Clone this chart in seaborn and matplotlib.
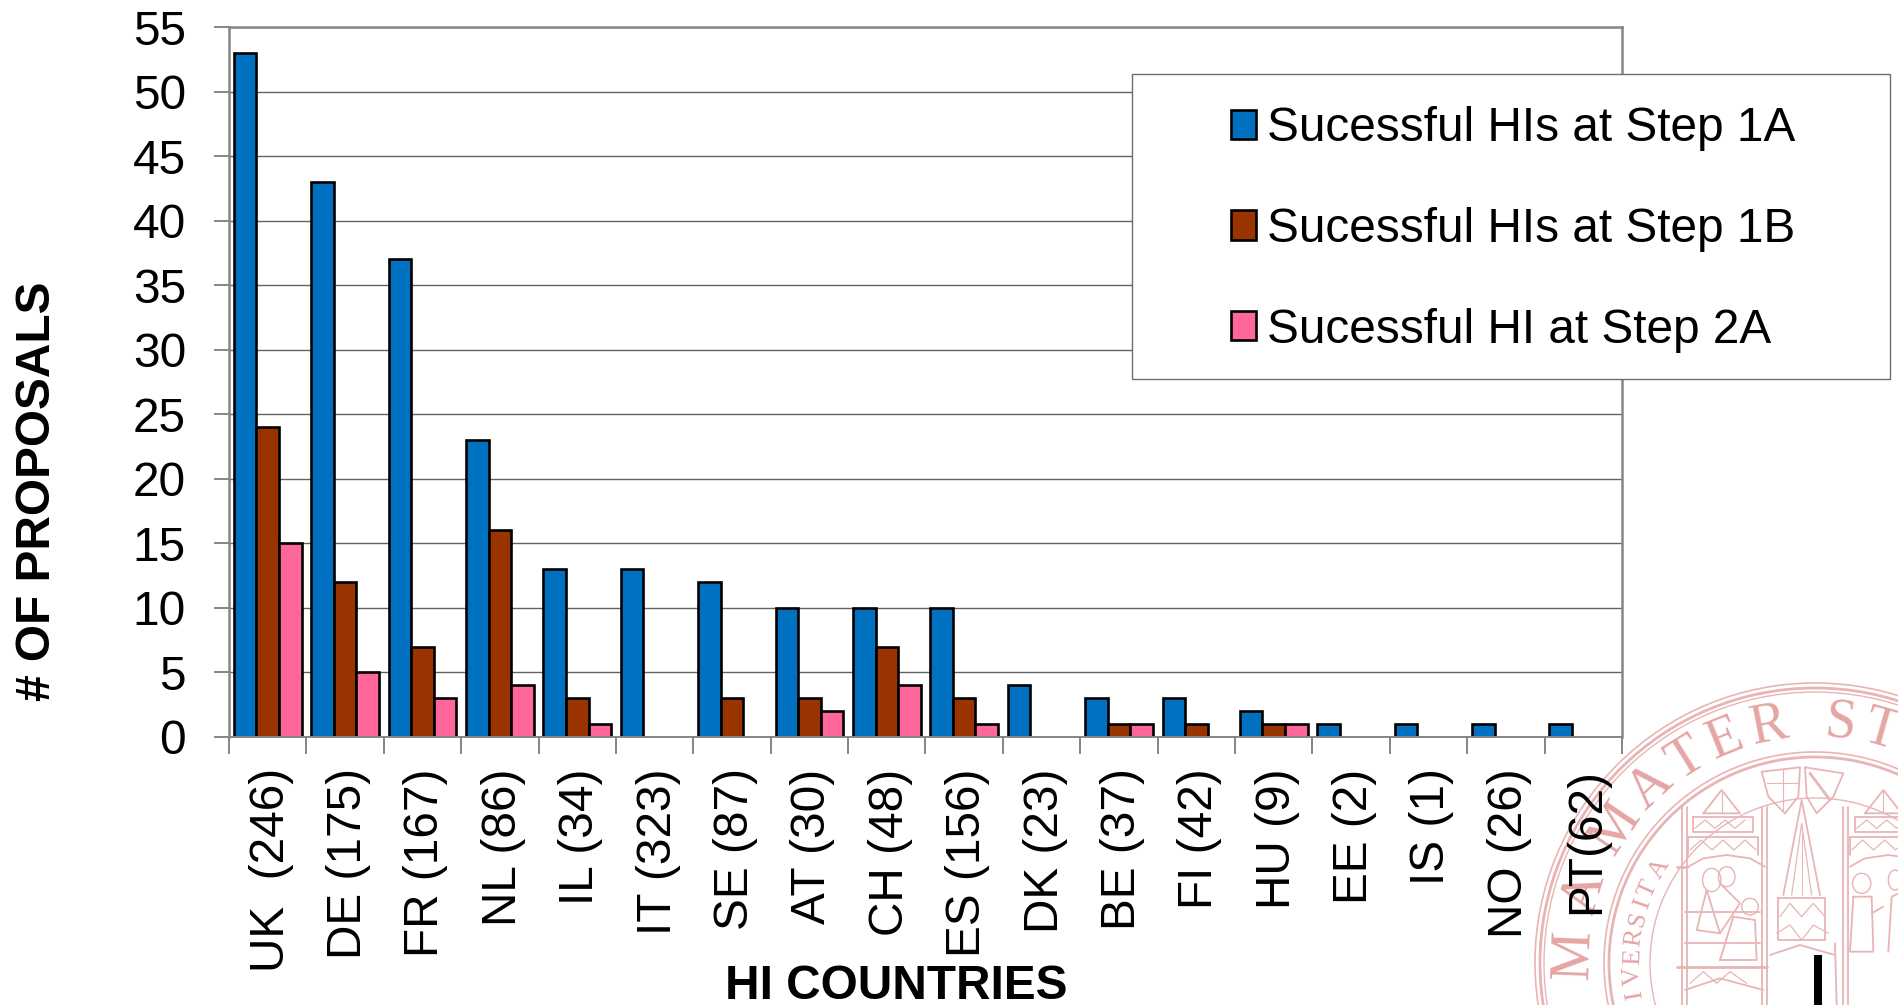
import matplotlib
matplotlib.use("Agg")
import matplotlib.pyplot as plt
from matplotlib.patches import Rectangle, Circle, Ellipse
from matplotlib.transforms import ScaledTranslation
import numpy as np
import pandas as pd
import seaborn as sns

countries = ["UK  (246)", "DE (175)", "FR (167)", "NL (86)", "IL (34)", "IT (323)",
             "SE (87)", "AT (30)", "CH (48)", "ES (156)", "DK (23)", "BE (37)",
             "FI (42)", "HU (9)", "EE (2)", "IS (1)", "NO (26)", "PT(62)"]
step_1a = [53, 43, 37, 23, 13, 13, 12, 10, 10, 10, 4, 3, 3, 2, 1, 1, 1, 1]
step_1b = [24, 12, 7, 16, 3, 0, 3, 3, 7, 3, 0, 1, 1, 1, 0, 0, 0, 0]
step_2a = [15, 5, 3, 4, 1, 0, 0, 2, 4, 1, 0, 1, 0, 1, 0, 0, 0, 0]
series_names = ["Sucessful HIs at Step 1A", "Sucessful HIs at Step 1B", "Sucessful HI at Step 2A"]
y_ticks = list(range(0, 60, 5))

colors = ["#0070C0", "#993300", "#FF6699"]
GREY = "#868686"
SEAL = "#E9B4B4"
W, H = 1899, 1005
FS = 34.4

sns.set_theme(style="white")
plt.rcParams["font.family"] = ["Liberation Sans", "DejaVu Sans"]

df = pd.DataFrame({"country": countries, series_names[0]: step_1a,
                   series_names[1]: step_1b, series_names[2]: step_2a})
df = df.melt(id_vars="country", var_name="series", value_name="proposals")

fig = plt.figure(figsize=(W / 100, H / 100), dpi=100, facecolor="white")


# faint university seal behind everything, in pixel coords of the zoomed crop
seal = fig.add_axes([0, 0, 1, 1], zorder=0)
seal.set_xlim(0, W)
seal.set_ylim(H, 0)
seal.axis("off")
cx, cy = 1815, 963


def zp(pts):
    pts = np.array(pts, dtype=float)
    return 1500 + pts[:, 0] / 3, 650 + pts[:, 1] / 3


def sline(pts, lw=1.3):
    x, y = zp(pts)
    seal.plot(x, y, color=SEAL, lw=lw, solid_joinstyle="round")


for r, lw in [(280, 1.2), (275, 2.0), (271, 1.0), (211, 1.2), (206, 2.0), (165, 1.0)]:
    seal.add_patch(Circle((cx, cy), r, fill=False, ec=SEAL, lw=lw))

for ch, ang in [("M", 178), ("A", 163), ("M", 146), ("A", 133), ("T", 122), ("E", 112),
                ("R", 101), ("S", 84), ("T", 74)]:
    a = np.radians(ang)
    seal.text(cx + 241 * np.cos(a), cy - 241 * np.sin(a), ch, color="#E5A5A5", fontsize=40,
              family="Liberation Serif", rotation=ang - 90, ha="center", va="center")
for ch, ang in [("I", 190), ("V", 184), ("E", 178), ("R", 172), ("S", 166), ("I", 161),
                ("T", 156), ("A", 149)]:
    a = np.radians(ang)
    seal.text(cx + 182 * np.cos(a), cy - 182 * np.sin(a), ch, color="#E5A5A5", fontsize=19,
              family="Liberation Serif", rotation=ang - 90, ha="center", va="center")

# towers and spire
for dx in [0, 485]:
    for zx in [545, 560, 785, 800]:
        if dx == 485 and zx > 560:
            continue
        sline([(zx + dx, 470), (zx + dx, 1065)])
    sline([(610 + dx, 490), (665 + dx, 420), (720 + dx, 490), (610 + dx, 490)])
    sline([(665 + dx, 420), (665 + dx, 490)], 0.8)
    sline([(580 + dx, 500), (760 + dx, 500), (760 + dx, 545), (580 + dx, 545), (580 + dx, 500)])
    sline([(565 + dx, 560), (775 + dx, 560), (775 + dx, 615)])
    sline([(565 + dx, 560), (565 + dx, 615)])
    zig = [(585 + dx + 30 * i, 535 - 25 * (i % 2)) for i in range(6)]
    sline(zig, 0.9)
    zig = [(570 + dx + 33 * i, 600 - 30 * (i % 2)) for i in range(7)]
    sline(zig, 0.9)
    sline([(565 + dx, 650), (610 + dx, 625), (680 + dx, 615), (750 + dx, 625), (795 + dx, 650)])
sline([(530, 650), (560, 650)], 2)
sline([(555, 785), (780, 785)])
sline([(555, 880), (780, 880)])
sline([(530, 950), (800, 950)], 2)
sline([(555, 1020), (660, 985), (790, 1020)])
sline([(570, 1000), (610, 965), (650, 1000), (690, 965), (740, 1000)], 0.9)

sline([(850, 735), (905, 450), (960, 735)])
sline([(875, 735), (905, 520), (935, 735)], 0.9)
sline([(905, 540), (905, 735)], 0.7)
sline([(835, 745), (975, 745), (975, 870), (835, 870), (835, 745)])
sline([(840, 800), (870, 760), (905, 800), (940, 760), (975, 800)], 0.9)
sline([(830, 850), (870, 825), (905, 870), (940, 825), (985, 850)], 0.9)
sline([(810, 915), (900, 885), (1005, 915)])
sline([(1005, 880), (1010, 1065)])

# shields
sline([(785, 365), (900, 352), (895, 440), (855, 490), (805, 440), (785, 365)])
sline([(915, 352), (1030, 370), (1000, 440), (950, 490), (920, 440), (915, 352)])
sline([(800, 400), (895, 400)], 0.8)
sline([(850, 360), (850, 480)], 0.8)
sline([(930, 370), (990, 450)], 2)

# seated and standing figures, just rough outlines
for ex, ey, ew, eh in [(635, 690, 55, 70), (680, 680, 50, 60), (750, 770, 50, 50),
                       (1085, 700, 55, 60), (1185, 690, 40, 60)]:
    x, y = zp([(ex, ey)])
    seal.add_patch(Ellipse((x[0], y[0]), ew / 3, eh / 3, fill=False, ec=SEAL, lw=1))
sline([(590, 840), (620, 720), (660, 850), (590, 840)])
sline([(660, 700), (720, 760), (660, 850)])
sline([(660, 930), (700, 800), (765, 810), (770, 930), (660, 930)])
sline([(1060, 740), (1050, 905), (1120, 905), (1115, 740), (1060, 740)])
sline([(1165, 905), (1175, 740), (1197, 730)])
sline([(1115, 790), (1150, 770)])

# the black stub at the bottom right
seal.add_patch(Rectangle((1814, 955), 8, 50, fc="black", ec="none", zorder=4))


# main chart
left, right, top, bottom = 229, 1622, 27, 737
ax = fig.add_axes([left / W, 1 - bottom / H, (right - left) / W, (bottom - top) / H], zorder=2)
ax.set_axisbelow(True)
ax.yaxis.grid(True, color="#636363", lw=1.0)
ax.xaxis.grid(False)

sns.barplot(data=df, x="country", y="proposals", hue="series", hue_order=series_names,
            palette=colors, saturation=1, width=0.875, gap=0, edgecolor="black",
            linewidth=1.9, ax=ax)
for container in ax.containers:
    for bar in container:
        if bar.get_height() == 0:
            bar.set_visible(False)

ax.set_xlim(-0.5, len(countries) - 0.5)
ax.set_ylim(0, 55)
ax.set_yticks(y_ticks)
ax.tick_params(axis="y", labelsize=FS, left=True, length=11, width=1.4, color=GREY, pad=20,
               labelcolor="black")
ax.set_xticks(range(len(countries)))
ax.set_xticklabels(countries, rotation=90, fontsize=FS, ha="center", va="top", color="black")
ax.set_xticks(np.arange(len(countries) + 1) - 0.5, minor=True)
ax.tick_params(axis="x", which="minor", bottom=True, length=12, width=1.2, color="#707070",
               direction="out")
ax.tick_params(axis="x", which="major", bottom=False, length=0, pad=22.5)
# labels sit slightly right of the category centre
shift = ScaledTranslation(2.5 / 72, 0, fig.dpi_scale_trans)
for label in ax.get_xticklabels():
    label.set_transform(label.get_transform() + shift)
for side in ax.spines:
    ax.spines[side].set_color(GREY)
    ax.spines[side].set_linewidth(1.8)
ax.spines["bottom"].set_linewidth(1.4)

ax.set_xlabel("HI COUNTRIES", fontsize=FS, fontweight="bold", color="black")
ax.xaxis.set_label_coords(896 / W, 1 - 1009 / H, transform=fig.transFigure)
ax.xaxis.label.set_va("bottom")
ax.set_ylabel("# OF PROPOSALS", fontsize=FS, fontweight="bold", color="black")
ax.yaxis.set_label_coords(38 / W, 1 - 491 / H, transform=fig.transFigure)
ax.yaxis.label.set_va("center")

# legend box sits over the right edge of the plot
box = Rectangle((1132 / W, 1 - 379 / H), 758 / W, 305 / H, transform=fig.transFigure,
                fc="white", ec="#6e6e6e", lw=1.0, zorder=5, clip_on=False)
ax.add_patch(box)
handles, labels = ax.get_legend_handles_labels()
leg = ax.legend(handles, labels, loc="upper left", bbox_to_anchor=(1231 / W, 1 - 106 / H),
                bbox_transform=fig.transFigure, frameon=False, fontsize=FS, borderpad=0,
                borderaxespad=0, labelspacing=1.17, handlelength=0.52, handleheight=0.56,
                handletextpad=0.24, labelcolor="black")
leg.set_zorder(6)

fig.savefig("out.png", dpi=100, facecolor="white")
